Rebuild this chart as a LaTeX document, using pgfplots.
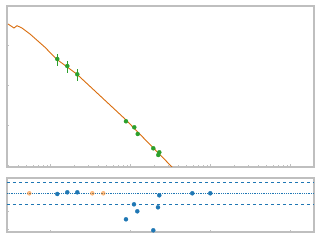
\documentclass[border=0pt]{standalone}
\usepackage{pgfplots}
\pgfplotsset{compat=1.18}
\definecolor{tblue}{HTML}{1F77B4}
\definecolor{torange}{HTML}{FF7F0E}
\definecolor{tgreen}{HTML}{2CA02C}
\definecolor{framec}{HTML}{BFBFBF}
\begin{document}
\begin{tikzpicture}
\path[use as bounding box] (-7pt,-234pt) rectangle (313pt,6pt);
\begin{axis}[scale only axis, width=307pt, height=161pt,
    xmode=log, ymode=log, xmin=0.2844, xmax=1955, ymin=0.891, ymax=9441,
    at={(0pt,0pt)}, anchor=north west,
    axis line style={framec, line width=1.5pt},
    xticklabels={}, yticklabels={},
    xtick pos=bottom, ytick pos=left,
    tick style={framec, line width=0.8pt},
    major tick length=2.5pt, minor tick length=1.5pt]
\addplot[torange!85!black, line width=0.9pt, mark=none] coordinates {
(0.2924,3350) (0.3477,2661) (0.3793,3038) (0.4377,2661) (0.5511,1884)
(0.8486,876) (1.189,439) (2.113,188.4) (8.49,14.13) (32.83,0.891) (40,0.5)
};
\addplot+[only marks, mark=*, mark size=2pt, color=tgreen, mark options={fill=tgreen, draw=tgreen},
  error bars/y dir=both, error bars/y explicit,
  error bars/x dir=both, error bars/x explicit,
  error bars/error mark=none,
  error bars/error bar style={tgreen, line width=0.8pt}]
 coordinates {
(1.209,446.7) +- (0.03,150)
(1.613,298.5) +- (0.04,100)
(2.150,185.1) +- (0.05,62)
(8.73,12.38) +- (0,0.5)
(11.09,8.76) +- (0,0.4)
(12.24,5.96) +- (0,0.3)
(19.16,2.615) +- (0,0.15)
(22.78,2.077) +- (0,0.12)
(22.13,1.778) +- (0,0.1)
};
\end{axis}
\begin{axis}[scale only axis, width=307pt, height=54pt,
    xmode=log, xmin=0.2844, xmax=1955, ymin=-10.75, ymax=4.25, ytick={-10,-5,0},
    at={(0pt,-172pt)}, anchor=north west,
    axis line style={framec, line width=1.5pt},
    xticklabels={}, yticklabels={},
    xtick pos=bottom, ytick pos=left,
    tick style={framec, line width=0.8pt},
    major tick length=2.5pt, minor tick length=1.5pt]
\addplot[tblue, dashed, line width=0.8pt] coordinates {(0.2844,3) (1955,3)};
\addplot[tblue, dashed, line width=0.8pt] coordinates {(0.2844,-3) (1955,-3)};
\addplot[tblue, densely dotted, line width=0.8pt] coordinates {(0.2844,0) (1955,0)};
\addplot[only marks, mark=*, mark size=2pt, color=torange, opacity=0.5] coordinates {
(0.540,0) (3.311,0) (4.545,0)
};
\addplot[only marks, mark=*, mark size=2pt, color=tblue] coordinates {
(1.209,-0.19) (1.613,0.28) (2.150,0.28) (8.73,-7.22) (10.99,-3.06)
(12.09,-5.0) (19.16,-10.28) (21.93,-3.89) (22.78,-0.56) (58.9,0) (98.9,0)
};
\end{axis}
\end{tikzpicture}
\end{document}
